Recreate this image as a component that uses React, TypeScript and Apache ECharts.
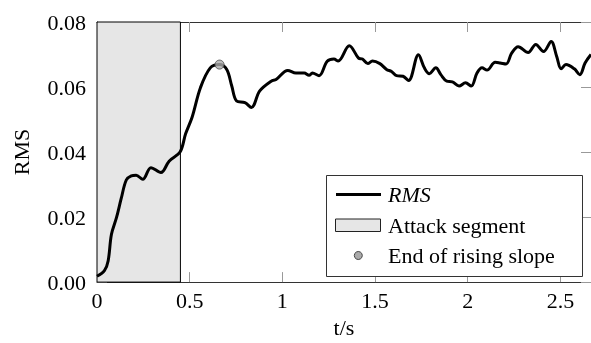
import React, { useEffect, useRef } from "react";
import * as echarts from "echarts";

const timeS: number[] = [
  0.0, 0.04, 0.06, 0.078, 0.105, 0.131, 0.158, 0.185, 0.211, 0.247, 0.291, 0.345, 0.389, 0.448,
  0.478, 0.513, 0.558, 0.611, 0.66, 0.7, 0.727, 0.753, 0.798, 0.833, 0.878, 0.94, 0.966, 1.029,
  1.073, 1.118, 1.144, 1.162, 1.198, 1.242, 1.278, 1.301, 1.361, 1.411, 1.432, 1.461, 1.486,
  1.526, 1.562, 1.589, 1.616, 1.651, 1.681, 1.734, 1.766, 1.793, 1.828, 1.855, 1.887, 1.917,
  1.953, 1.988, 2.019, 2.05, 2.077, 2.104, 2.148, 2.175, 2.207, 2.237, 2.272, 2.326, 2.367,
  2.409, 2.45, 2.48, 2.504, 2.53, 2.575, 2.605, 2.633, 2.665,
];
const rmsValues: number[] = [
  0.0018, 0.0035, 0.0065, 0.0147, 0.0198, 0.0258, 0.0314, 0.0327, 0.0329, 0.0316, 0.0352, 0.0337,
  0.0372, 0.04, 0.0456, 0.0507, 0.0598, 0.0659, 0.0669, 0.0654, 0.0603, 0.0557, 0.0552, 0.0537,
  0.0588, 0.0618, 0.0623, 0.0651, 0.0643, 0.0643, 0.0636, 0.0643, 0.0635, 0.0679, 0.0686, 0.068,
  0.0727, 0.0689, 0.0686, 0.0672, 0.068, 0.0672, 0.0654, 0.0648, 0.0635, 0.0633, 0.062, 0.0699,
  0.0659, 0.0641, 0.0659, 0.0638, 0.0618, 0.0616, 0.0603, 0.0613, 0.0603, 0.0643, 0.0659, 0.0652,
  0.0676, 0.0674, 0.0671, 0.0704, 0.0724, 0.0706, 0.0731, 0.0709, 0.074, 0.0694, 0.0656, 0.0669,
  0.0656, 0.0638, 0.0674, 0.07,
];
const attackSegment: [number, number] = [0, 0.45];
const risingSlopeEnd: [number, number] = [0.661, 0.0669];
const xTicks = { min: 0, max: 2.665, interval: 0.5 };
const yTicks = { min: 0, max: 0.08, interval: 0.02 };
const legendLabels = ["RMS", "Attack segment", "End of rising slope"];

const FONT = "'Liberation Serif', 'Times New Roman', serif";

export default function App() {
  const ref = useRef<HTMLDivElement>(null);
  useEffect(() => {
    if (!ref.current) return;
    const chart = echarts.init(ref.current, undefined, { renderer: "svg" });
    const axisLine = { show: true, onZero: false, lineStyle: { color: "#333", width: 1 } };
    const axisTick = { show: true, inside: true, length: 10, lineStyle: { color: "#999", width: 1 } };
    const labelStyle = { fontFamily: FONT, fontSize: 22, color: "#000" };
    const xFmt = (v: number) => {
      const r = Math.round(v * 2) / 2;
      return Math.abs(v - r) < 1e-6 ? String(r) : "";
    };
    const lx = 326.5, ly = 175.5;
    const txt = { fontFamily: FONT, fontSize: 22, fill: "#000", verticalAlign: "middle", textAlign: "left" };
    chart.setOption({
      animation: false,
      grid: { left: 97, top: 22, bottom: 58, right: -6, containLabel: false },
      xAxis: [
        {
          type: "value", ...xTicks, position: "bottom", axisLine, axisTick,
          splitLine: { show: false },
          axisLabel: { ...labelStyle, margin: 7, formatter: xFmt, showMaxLabel: false },
          name: "t/s", nameLocation: "middle", nameGap: 31,
          nameTextStyle: { ...labelStyle },
        },
        {
          type: "value", ...xTicks, position: "top", axisLine, axisTick,
          splitLine: { show: false }, axisLabel: { show: false },
        },
      ],
      yAxis: [
        {
          type: "value", ...yTicks, position: "left", axisLine, axisTick,
          splitLine: { show: false },
          axisLabel: { ...labelStyle, margin: 11, formatter: (v: number) => v.toFixed(2) },
          name: "RMS", nameLocation: "middle", nameGap: 65,
          nameTextStyle: { ...labelStyle },
        },
        {
          type: "value", ...yTicks, position: "right", axisLine, axisTick,
          splitLine: { show: false }, axisLabel: { show: false },
        },
      ],
      series: [
        {
          name: legendLabels[0],
          type: "line",
          data: timeS.map((t, i) => [t, rmsValues[i]]),
          smooth: 0.35,
          showSymbol: false,
          symbol: "none",
          lineStyle: { color: "#000", width: 3 },
          z: 3,
          markArea: {
            silent: true,
            itemStyle: { color: "#e6e6e6", borderColor: "#000", borderWidth: 1 },
            data: [[{ xAxis: attackSegment[0], yAxis: yTicks.min }, { xAxis: attackSegment[1], yAxis: yTicks.max }]],
          },
        },
        {
          name: legendLabels[2],
          type: "scatter",
          data: [risingSlopeEnd],
          symbol: "circle",
          symbolSize: 9,
          itemStyle: { color: "#aaaaaa", borderColor: "#444", borderWidth: 1 },
          z: 5,
        },
      ],
      graphic: [
        { type: "rect", z: 100, shape: { x: lx, y: ly, width: 256, height: 101 }, style: { fill: "#fff", stroke: "#333", lineWidth: 1 } },
        { type: "line", z: 101, shape: { x1: 336, y1: 194.5, x2: 381, y2: 194.5 }, style: { stroke: "#000", lineWidth: 3 } },
        { type: "text", z: 101, x: 388, y: 194.5, style: { ...txt, text: legendLabels[0], fontStyle: "italic" } },
        { type: "rect", z: 101, shape: { x: 335.5, y: 219, width: 45, height: 12.5 }, style: { fill: "#e6e6e6", stroke: "#222", lineWidth: 1 } },
        { type: "text", z: 101, x: 388, y: 225, style: { ...txt, text: legendLabels[1] } },
        { type: "circle", z: 101, shape: { cx: 358.3, cy: 255.5, r: 4 }, style: { fill: "#aaaaaa", stroke: "#444", lineWidth: 1 } },
        { type: "text", z: 101, x: 388, y: 255.5, style: { ...txt, text: legendLabels[2] } },
      ],
    });
    return () => chart.dispose();
  }, []);
  return <div ref={ref} style={{ position: "fixed", left: 0, top: 0, width: 591, height: 343 }} />;
}
